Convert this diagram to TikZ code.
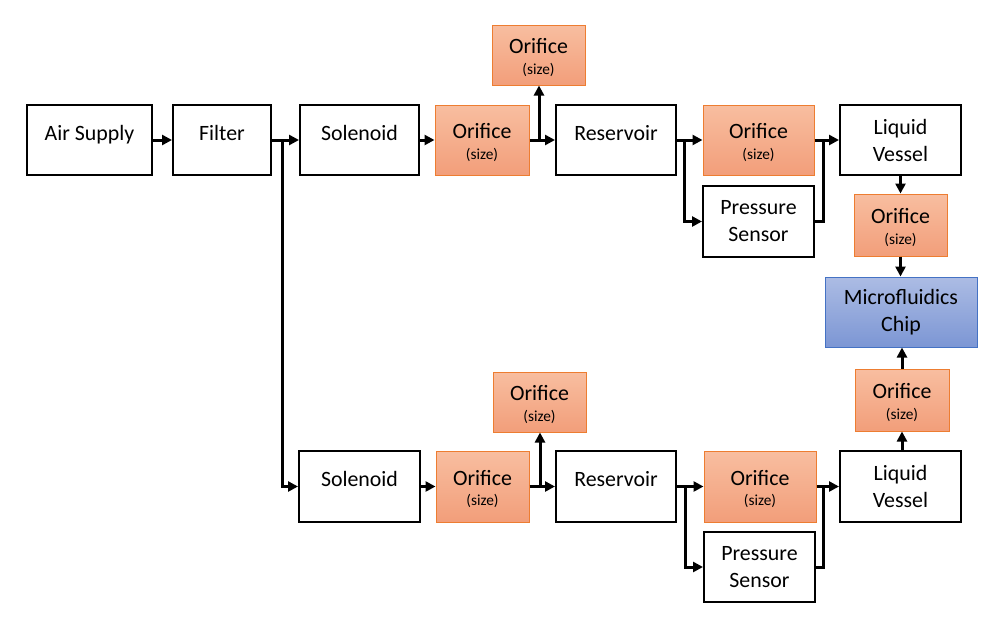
\documentclass[tikz,border=0pt]{standalone}
\usepackage{fontspec}
\setmainfont{Carlito}
\usetikzlibrary{arrows.meta,calc}
\definecolor{orT}{RGB}{248,190,160}
\definecolor{orB}{RGB}{242,158,122}
\definecolor{orD}{RGB}{237,125,49}
\definecolor{blT}{RGB}{172,188,228}
\definecolor{blB}{RGB}{124,150,212}
\definecolor{blD}{RGB}{68,114,196}
\newcommand{\orilabel}{\rule{0pt}{15.3pt}Orifice\\[-5pt]{\fontsize{11.5}{14}\selectfont (size)}}
\begin{document}
\begin{tikzpicture}[x=0.75pt,y=-0.75pt,
  base/.style={align=center,inner sep=0pt,font=\fontsize{16.4}{20.25}\selectfont},
  wbox/.style={base,draw=black,line width=1.5pt,fill=white,minimum height=52.5pt},
  single/.style={text height=8pt,text depth=8pt},
  obox/.style={base,draw=orD,line width=0.75pt,top color=orT,bottom color=orB},
  bbox/.style={base,draw=blD,line width=0.75pt,top color=blT,bottom color=blB},
  arr/.style={line width=2.25pt,line join=miter,-{Triangle[length=7.5pt,width=7.5pt]}},
  ln/.style={line width=2.25pt,line join=miter}]
\useasboundingbox (0,0) rectangle (1000,625);
% top row
\node[wbox,single,minimum width=93.75pt] (air) at (89.5,140) {Air Supply};
\node[wbox,single,minimum width=73.5pt] (filter) at (222,140) {Filter};
\node[wbox,single,minimum width=89.25pt] (sol1) at (359.5,140) {Solenoid};
\node[obox,minimum width=70.5pt,minimum height=52.5pt] (or1) at (482,140) {\orilabel};
\node[obox,minimum width=69.75pt,minimum height=45pt] (orup1) at (538.5,55) {\orilabel};
\node[wbox,single,minimum width=90pt] (res1) at (616,140) {Reservoir};
\node[obox,minimum width=83.25pt,minimum height=52.5pt] (or2) at (758.5,140) {\orilabel};
\node[wbox,minimum width=90.75pt] (lv1) at (900.5,140) {Liquid\\Vessel};
\node[wbox,minimum width=83.25pt,minimum height=53.25pt] (ps1) at (758.5,221.5) {Pressure\\Sensor};
\node[obox,minimum width=69.75pt,minimum height=46.5pt] (or3) at (900.5,225) {\orilabel};
\node[bbox,minimum width=114pt,minimum height=52.5pt] (chip) at (901,312) {Microfluidics\\Chip};
% bottom row
\node[obox,minimum width=70.5pt,minimum height=46.5pt] (or4) at (902,400) {\orilabel};
\node[wbox,single,minimum width=90.75pt,minimum height=53.25pt] (sol2) at (359.5,486.5) {Solenoid};
\node[obox,minimum width=69.75pt,minimum height=53.25pt] (or5) at (482.5,486.5) {\orilabel};
\node[obox,minimum width=69.75pt,minimum height=45pt] (orup2) at (539.5,402) {\orilabel};
\node[wbox,single,minimum width=90pt,minimum height=53.25pt] (res2) at (616,486.5) {Reservoir};
\node[obox,minimum width=84pt,minimum height=53.25pt] (or6) at (760,486.5) {\orilabel};
\node[wbox,minimum width=90.75pt,minimum height=53.25pt] (lv2) at (900.5,486.5) {Liquid\\Vessel};
\node[wbox,minimum width=83.25pt] (ps2) at (759.5,567) {Pressure\\Sensor};
% junctions
\coordinate (j1) at (282,140);
\coordinate (j2) at (539,140);
\coordinate (j3) at (684,140);
\coordinate (j4) at (823,140);
\coordinate (k2) at (540,486.5);
\coordinate (k3) at (685,486.5);
\coordinate (k4) at (823,486.5);
% connectors top
\draw[arr] (air) -- (filter);
\draw[arr] (filter) -- (sol1);
\draw[arr] (j1) |- (sol2.west);
\draw[arr] (sol1) -- (or1);
\draw[arr] (or1) -- (res1);
\draw[arr] (j2) -- (j2 |- orup1.south);
\draw[arr] (res1) -- (or2);
\draw[arr] (j3) |- (ps1.west);
\draw[arr] (or2) -- (lv1);
\draw[ln] (ps1.east) -| (j4);
\draw[arr] (lv1.south) -- (lv1.south |- or3.north);
\draw[arr] (or3.south) -- (or3.south |- chip.north);
% connectors bottom
\draw[arr] (sol2) -- (or5);
\draw[arr] (or5) -- (res2);
\draw[arr] (k2) -- (k2 |- orup2.south);
\draw[arr] (res2) -- (or6);
\draw[arr] (k3) |- (ps2.west);
\draw[arr] (or6) -- (lv2);
\draw[ln] (ps2.east) -| (k4);
\draw[arr] (or4.south |- lv2.north) -- (or4.south);
\draw[arr] (or4.north) -- (or4.north |- chip.south);
\end{tikzpicture}
\end{document}
